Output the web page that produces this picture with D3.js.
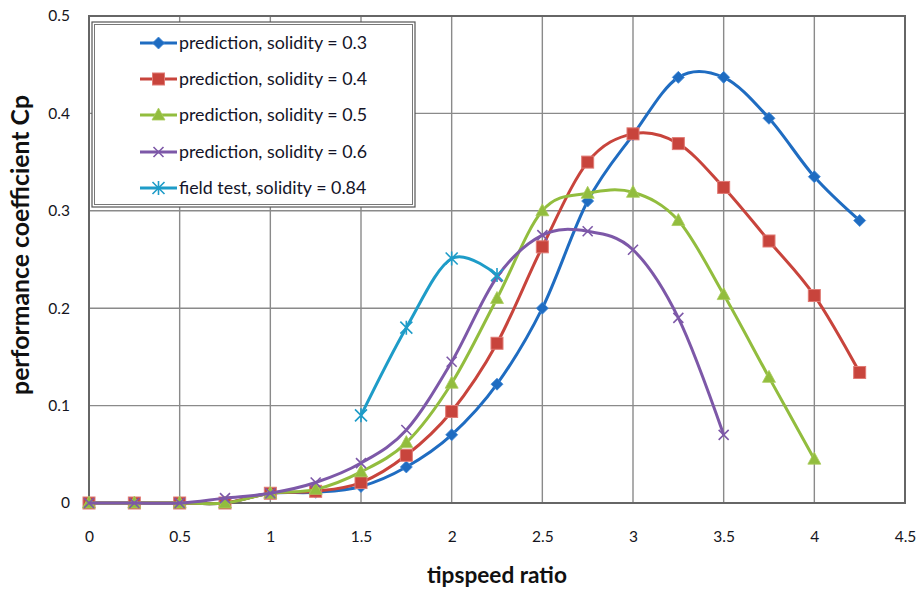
<!DOCTYPE html>
<html><head><meta charset="utf-8">
<script src="https://cdn.jsdelivr.net/npm/d3@7"></script>
<style>body{margin:0;background:#fff}svg{display:block}</style>
</head><body>
<svg id="c" width="919" height="592"></svg>
<script>
// ---- data ----
const tsr = [0,0.25,0.5,0.75,1,1.25,1.5,1.75,2,2.25,2.5,2.75,3,3.25,3.5,3.75,4,4.25];
const cp03 = [0,0,0,0,0.01,0.011,0.017,0.037,0.07,0.122,0.2,0.31,0.378,0.437,0.437,0.395,0.335,0.29];
const cp04 = [0,0,0,0,0.01,0.012,0.021,0.049,0.094,0.164,0.263,0.35,0.379,0.369,0.324,0.269,0.213,0.134];
const cp05 = [0,0,0,0,0.01,0.014,0.032,0.062,0.123,0.21,0.3,0.318,0.319,0.29,0.214,0.129,0.045];
const cp06 = [0,0,0,0.005,0.01,0.021,0.041,0.075,0.145,0.232,0.275,0.279,0.26,0.19,0.07];
const fieldTsr = [1.5,1.75,2,2.25];
const fieldCp = [0.09,0.18,0.251,0.234];
const seriesNames = ["prediction, solidity = 0.3","prediction, solidity = 0.4","prediction, solidity = 0.5","prediction, solidity = 0.6","field test, solidity = 0.84"];
const xTicks = [0,0.5,1,1.5,2,2.5,3,3.5,4,4.5];
const yTicks = [0,0.1,0.2,0.3,0.4,0.5];

// ---- layout ----
const L = 89, R = 905, T = 16, B = 503;
const svg = d3.select("#c");
const font = "Lato, 'Open Sans', sans-serif";
const x = d3.scaleLinear().domain([0,4.5]).range([L,R]);
const y = d3.scaleLinear().domain([0,0.5]).range([B,T]);

const colors = ["#1f6cc1","#c8443c","#92bd3e","#7d58a8","#1e9cc8"];
const markers = ["diamond","square","triangle","x","star"];

function fit(sel, w){
  const node = sel.node();
  const fs = parseFloat(sel.attr("font-size"));
  const cur = node.getComputedTextLength();
  sel.attr("font-size", (fs*w/cur).toFixed(2));
}

// grid
svg.append("g").selectAll("line").data(xTicks).join("line")
  .attr("x1",d=>x(d)).attr("x2",d=>x(d)).attr("y1",T).attr("y2",B)
  .attr("stroke","#8a8a8a").attr("stroke-width",1.4);
svg.append("g").selectAll("line").data(yTicks).join("line")
  .attr("x1",L).attr("x2",R).attr("y1",d=>y(d)).attr("y2",d=>y(d))
  .attr("stroke","#8a8a8a").attr("stroke-width",1.4);
svg.append("rect").attr("x",L).attr("y",T).attr("width",R-L).attr("height",B-T)
  .attr("fill","none").attr("stroke","#666").attr("stroke-width",2);

// tick labels
const yAxis = d3.axisLeft(y).tickValues(yTicks).tickSize(0).tickPadding(19)
  .tickFormat(d=>d===0?"0":d3.format(".1f")(d));
const gy = svg.append("g").attr("transform",`translate(${L},0)`).call(yAxis);
const xAxis = d3.axisBottom(x).tickValues(xTicks).tickSize(0).tickPadding(28)
  .tickFormat(d=>String(d));
const gx = svg.append("g").attr("transform",`translate(0,${B})`).call(xAxis);
[gy,gx].forEach(g=>{
  g.select(".domain").remove();
  g.selectAll("text").attr("font-family",font).attr("font-size",15.5).attr("fill","#151520");
});

// axis titles
const xt = svg.append("text").attr("x",497).attr("y",583).attr("text-anchor","middle")
  .attr("font-family",font).attr("font-weight","bold").attr("font-size",20).attr("fill","#111")
  .text("tipspeed ratio");
fit(xt,140);
const yt = svg.append("text").attr("transform","translate(29,245) rotate(-90)").attr("text-anchor","middle")
  .attr("font-family",font).attr("font-weight","bold").attr("font-size",20).attr("fill","#111")
  .text("performance coefficient Cp");
fit(yt,300);

// series
const series = [
  {xs:tsr, ys:cp03},
  {xs:tsr, ys:cp04},
  {xs:tsr, ys:cp05},
  {xs:tsr, ys:cp06},
  {xs:fieldTsr, ys:fieldCp}
];
const line = d3.line().x(d=>x(d[0])).y(d=>y(d[1])).curve(d3.curveCatmullRom.alpha(0));

function drawMarker(g, type, color, cx, cy){
  if(type==="diamond"){
    g.append("path").attr("d",`M${cx},${cy-6}L${cx+6},${cy}L${cx},${cy+6}L${cx-6},${cy}Z`)
      .attr("fill",color).attr("stroke","#3d86d6").attr("stroke-width",0.8);
  } else if(type==="square"){
    g.append("rect").attr("x",cx-6).attr("y",cy-6).attr("width",12).attr("height",12)
      .attr("fill",color).attr("stroke","#e07a74").attr("stroke-width",1);
  } else if(type==="triangle"){
    g.append("path").attr("d",`M${cx},${cy-7}L${cx+6.5},${cy+5}L${cx-6.5},${cy+5}Z`)
      .attr("fill",color).attr("stroke","#a9cc5c").attr("stroke-width",0.8);
  } else if(type==="x"){
    g.append("path").attr("d",`M${cx-5},${cy-5}L${cx+5},${cy+5}M${cx-5},${cy+5}L${cx+5},${cy-5}`)
      .attr("stroke",color).attr("stroke-width",1.6).attr("fill","none");
  } else {
    g.append("path").attr("d",`M${cx-6},${cy-6}L${cx+6},${cy+6}M${cx-6},${cy+6}L${cx+6},${cy-6}M${cx},${cy-7}L${cx},${cy+7}`)
      .attr("stroke",color).attr("stroke-width",1.6).attr("fill","none");
  }
}

series.forEach((s,i)=>{
  const pts = s.ys.map((v,k)=>[s.xs[k],v]);
  const g = svg.append("g");
  g.append("path").attr("d",line(pts)).attr("fill","none")
    .attr("stroke",colors[i]).attr("stroke-width",3).attr("stroke-linejoin","round");
  pts.forEach(p=>drawMarker(g, markers[i], colors[i], x(p[0]), y(p[1])));
});

// legend
const lg = svg.append("g");
lg.append("rect").attr("x",92).attr("y",22).attr("width",323).attr("height",185)
  .attr("fill","#fff").attr("stroke","#555").attr("stroke-width",1.2);
lg.append("rect").attr("x",94.5).attr("y",24.5).attr("width",318).attr("height",180)
  .attr("fill","none").attr("stroke","#777").attr("stroke-width",1);
const ly = [43,79,115,152,188];
seriesNames.forEach((n,i)=>{
  lg.append("line").attr("x1",140).attr("x2",177).attr("y1",ly[i]).attr("y2",ly[i])
    .attr("stroke",colors[i]).attr("stroke-width",3);
  drawMarker(lg, markers[i], colors[i], 158.5, ly[i]);
  const t = lg.append("text").attr("x",179).attr("y",ly[i]).attr("dy","0.35em")
    .attr("font-family",font).attr("font-size",16).attr("fill","#141428").text(n);
  if(i===0) fit(t,188);
  else t.attr("font-size", lg.select("text").attr("font-size"));
});
</script>
</body></html>
